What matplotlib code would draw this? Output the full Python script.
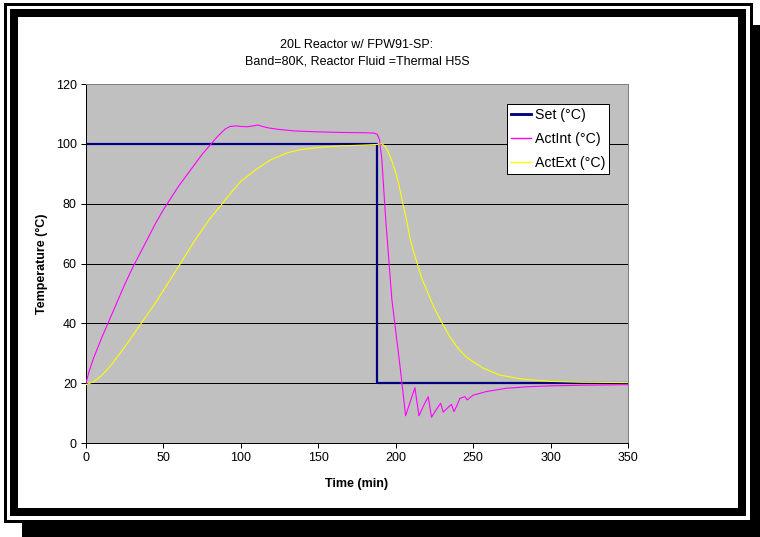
import matplotlib
matplotlib.use("Agg")
import matplotlib.pyplot as plt
from matplotlib.patches import Rectangle

plt.rcParams['font.family'] = ['Liberation Sans', 'DejaVu Sans']

# ---------------- data ----------------
title_lines = ["20L Reactor w/ FPW91-SP:", "Band=80K, Reactor Fluid =Thermal H5S"]
x_label = "Time (min)"
y_label = "Temperature (°C)"
series_names = ["Set (°C)", "ActInt (°C)", "ActExt (°C)"]
x_ticks = [0, 50, 100, 150, 200, 250, 300, 350]
y_ticks = [0, 20, 40, 60, 80, 100, 120]

t_set = [0, 188, 188, 350]
v_set = [100, 100, 20, 20]

t_int = [0, 2, 5, 10, 15, 20, 25, 30, 35, 40, 45, 50, 55, 60, 65, 70, 75, 80,
         85, 90, 93, 97, 100, 104, 108, 111, 114, 118, 125, 135, 150, 165, 180,
         186, 188, 189.5, 191, 193.5, 197.5, 202.7, 206.4, 209.5, 212.4, 215,
         218, 221, 223.1, 226, 229, 230.7, 233, 236, 237.6, 239.5, 241.4,
         244.7, 246.2, 250, 258.6, 271.5, 285, 300, 320, 350]
v_int = [20, 24, 28.5, 35, 41, 47, 53, 58.5, 63.5, 68.5, 73.5, 78, 82, 86, 89.5,
         93, 96.5, 99.5, 102.5, 105, 105.8, 106, 105.8, 105.7, 106, 106.3, 105.8,
         105.3, 104.8, 104.3, 104, 103.8, 103.7, 103.6, 103.2, 101.5, 95, 75, 48,
         26, 9.1, 14, 18.5, 9.1, 12.5, 15.5, 8.6, 11, 13.3, 10.3, 11.5, 12.9,
         10.5, 12.5, 14.9, 15.5, 14.4, 16, 17.2, 18.3, 18.8, 19.1, 19.3, 19.5]

t_ext = [0, 5, 10, 15, 20, 25, 30, 37, 45, 50, 61, 70, 80, 88, 95, 100, 110,
         119, 130, 138, 150, 164, 180, 188, 191, 193, 195, 197, 199.5, 202,
         204.4, 207, 209.2, 211.5, 213.9, 216.5, 219.9, 225, 230, 235, 240,
         245.8, 256.5, 267.3, 282.3, 300, 320, 350]
v_ext = [19.5, 20.5, 22.5, 25.3, 28.6, 32.1, 35.8, 41, 47, 51, 60, 67.5, 75,
         80, 84.5, 87.5, 91.5, 94.6, 97, 98, 98.8, 99.3, 99.6, 99.8, 100, 99.3,
         97.5, 95, 91.3, 86.5, 80.5, 74.5, 68.5, 64, 60, 55.5, 51.2, 45, 40,
         35.5, 31.8, 28.6, 25, 22.7, 21.3, 20.6, 20.3, 20.2]

# ---------------- figure ----------------
W, H = 760, 537
fig = plt.figure(figsize=(W / 100, H / 100), dpi=100)
fig.patch.set_facecolor('white')

def fx(x):
    return x / W

def fy(y):
    return 1 - y / H

def px2pt(p):
    return p * 72 / 100

# shadow
fig.add_artist(Rectangle((fx(22), fy(537)), fx(760) - fx(22), fy(25) - fy(537),
                         transform=fig.transFigure, facecolor='black',
                         edgecolor='none', zorder=-10))
# outer thin frame
fig.add_artist(Rectangle((fx(5), fy(521)), fx(751) - fx(5), fy(3.5) - fy(521),
                         transform=fig.transFigure, facecolor='white',
                         edgecolor='black', linewidth=px2pt(3), zorder=-9))
# inner thick frame
fig.add_artist(Rectangle((fx(13.7), fy(511.5)), fx(742) - fx(13.7), fy(12.8) - fy(511.5),
                         transform=fig.transFigure, facecolor='white',
                         edgecolor='black', linewidth=px2pt(8), zorder=-8))

ax = fig.add_axes([fx(86), fy(443), fx(628) - fx(86), fy(84) - fy(443)])
ax.set_facecolor('#C0C0C0')

ax.plot(t_set, v_set, color='#000080', linewidth=px2pt(2.2), label=series_names[0], zorder=3)
ax.plot(t_int, v_int, color='#FF00FF', linewidth=px2pt(1.1), label=series_names[1], zorder=4)
ax.plot(t_ext, v_ext, color='#FFFF00', linewidth=px2pt(1.1), label=series_names[2], zorder=4)

ax.set_xlim(0, 350)
ax.set_ylim(0, 120)
ax.set_xticks(x_ticks)
ax.set_yticks(y_ticks)
ax.grid(axis='y', color='black', linewidth=px2pt(1), zorder=1)
ax.set_axisbelow(True)

for s in ['left', 'bottom']:
    ax.spines[s].set_color('black')
    ax.spines[s].set_linewidth(px2pt(1))
for s in ['top', 'right']:
    ax.spines[s].set_color('#808080')
    ax.spines[s].set_linewidth(px2pt(1))

ax.tick_params(axis='both', direction='out', length=px2pt(5), width=px2pt(1),
               color='black', labelsize=9, pad=3)

ax.set_xlabel(x_label, fontsize=9, fontweight='bold')
ax.set_ylabel(y_label, fontsize=9, fontweight='bold')
ax.xaxis.set_label_coords(0.5, (443 - 478) / 359)
ax.yaxis.set_label_coords((48 - 86) / 542, 0.5)

fig.text(fx(357), fy(45), title_lines[0], ha='center', va='center', fontsize=9)
fig.text(fx(357), fy(62), title_lines[1], ha='center', va='center', fontsize=9)

leg = ax.legend(loc='upper left', bbox_to_anchor=(fx(507), fy(104)),
                bbox_transform=fig.transFigure, borderaxespad=0, fancybox=False,
                framealpha=1, edgecolor='black', fontsize=10.2, handlelength=1.4,
                handletextpad=0.25, labelspacing=0.7, borderpad=0.3)
leg.get_frame().set_linewidth(px2pt(1))
for h in leg.get_lines():
    h.set_linewidth(h.get_linewidth() * 1.3)

fig.savefig('out.png', dpi=100)
